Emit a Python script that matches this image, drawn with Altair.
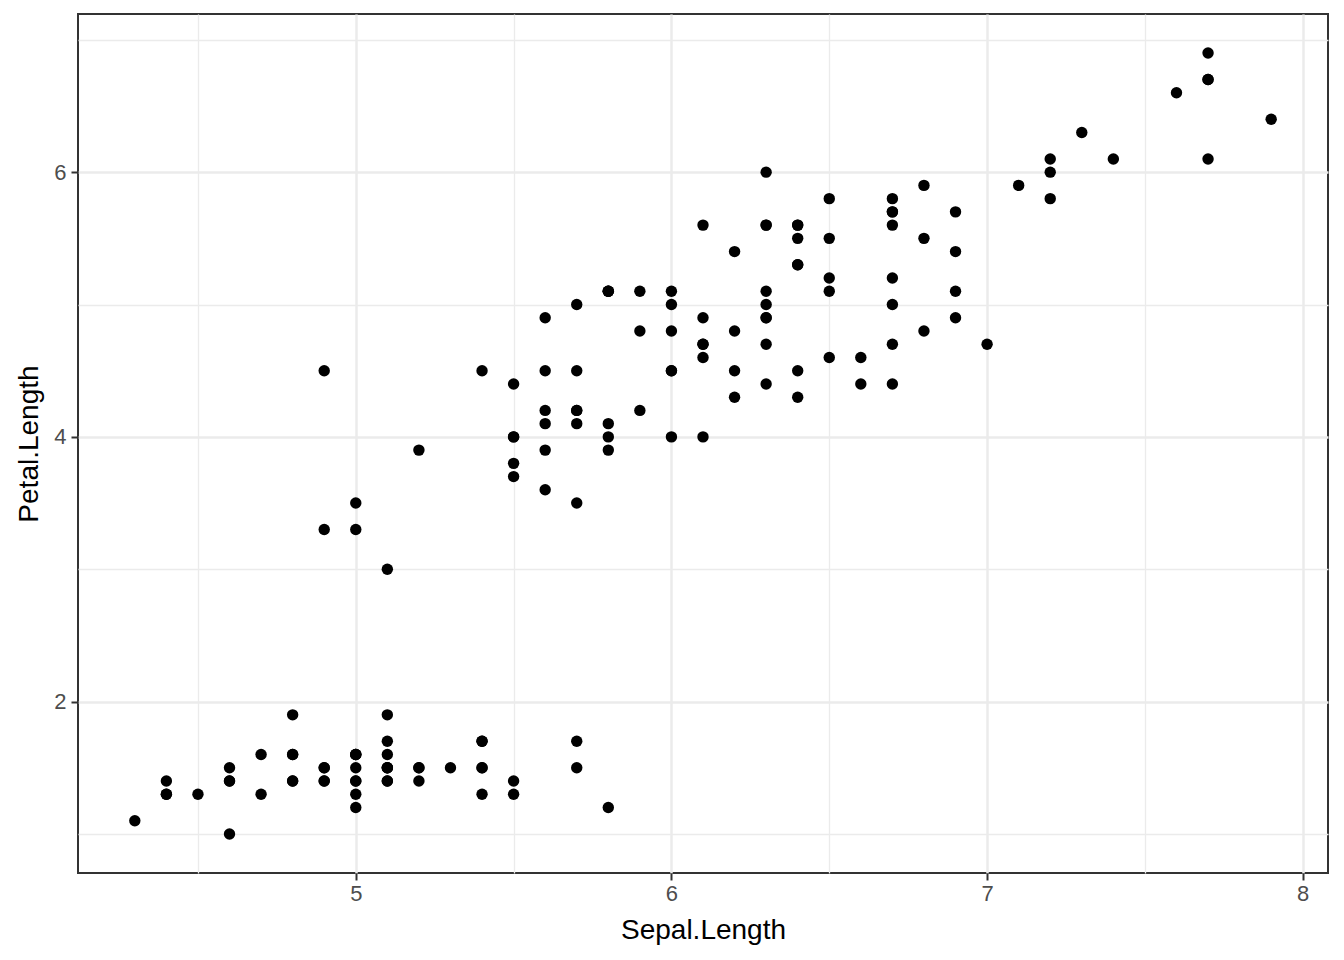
import altair as alt
import pandas as pd

sepal_length = [
    5.1, 4.9, 4.7, 4.6, 5.0, 5.4, 4.6, 5.0, 4.4, 4.9, 5.4, 4.8, 4.8, 4.3, 5.8, 5.7, 5.4, 5.1, 5.7, 5.1,
    5.4, 5.1, 4.6, 5.1, 4.8, 5.0, 5.0, 5.2, 5.2, 4.7, 4.8, 5.4, 5.2, 5.5, 4.9, 5.0, 5.5, 4.9, 4.4, 5.1,
    5.0, 4.5, 4.4, 5.0, 5.1, 4.8, 5.1, 4.6, 5.3, 5.0,
    7.0, 6.4, 6.9, 5.5, 6.5, 5.7, 6.3, 4.9, 6.6, 5.2, 5.0, 5.9, 6.0, 6.1, 5.6, 6.7, 5.6, 5.8, 6.2, 5.6,
    5.9, 6.1, 6.3, 6.1, 6.4, 6.6, 6.8, 6.7, 6.0, 5.7, 5.5, 5.5, 5.8, 6.0, 5.4, 6.0, 6.7, 6.3, 5.6, 5.5,
    5.5, 6.1, 5.8, 5.0, 5.6, 5.7, 5.7, 6.2, 5.1, 5.7,
    6.3, 5.8, 7.1, 6.3, 6.5, 7.6, 4.9, 7.3, 6.7, 7.2, 6.5, 6.4, 6.8, 5.7, 5.8, 6.4, 6.5, 7.7, 7.7, 6.0,
    6.9, 5.6, 7.7, 6.3, 6.7, 7.2, 6.2, 6.1, 6.4, 7.2, 7.4, 7.9, 6.4, 6.3, 6.1, 7.7, 6.3, 6.4, 6.0, 6.9,
    6.7, 6.9, 5.8, 6.8, 6.7, 6.7, 6.3, 6.5, 6.2, 5.9,
]
petal_length = [
    1.4, 1.4, 1.3, 1.5, 1.4, 1.7, 1.4, 1.5, 1.4, 1.5, 1.5, 1.6, 1.4, 1.1, 1.2, 1.5, 1.3, 1.4, 1.7, 1.5,
    1.7, 1.5, 1.0, 1.7, 1.9, 1.6, 1.6, 1.5, 1.4, 1.6, 1.6, 1.5, 1.5, 1.4, 1.5, 1.2, 1.3, 1.4, 1.3, 1.5,
    1.3, 1.3, 1.3, 1.6, 1.9, 1.4, 1.6, 1.4, 1.5, 1.4,
    4.7, 4.5, 4.9, 4.0, 4.6, 4.5, 4.7, 3.3, 4.6, 3.9, 3.5, 4.2, 4.0, 4.7, 3.6, 4.4, 4.5, 4.1, 4.5, 3.9,
    4.8, 4.0, 4.9, 4.7, 4.3, 4.4, 4.8, 5.0, 4.5, 3.5, 3.8, 3.7, 3.9, 5.1, 4.5, 4.5, 4.7, 4.4, 4.1, 4.0,
    4.4, 4.6, 4.0, 3.3, 4.2, 4.2, 4.2, 4.3, 3.0, 4.1,
    6.0, 5.1, 5.9, 5.6, 5.8, 6.6, 4.5, 6.3, 5.8, 6.1, 5.1, 5.3, 5.5, 5.0, 5.1, 5.3, 5.5, 6.7, 6.9, 5.0,
    5.7, 4.9, 6.7, 4.9, 5.7, 6.0, 4.8, 4.9, 5.6, 5.8, 6.1, 6.4, 5.6, 5.1, 5.6, 6.1, 5.6, 5.5, 4.8, 5.4,
    5.6, 5.1, 5.1, 5.9, 5.7, 5.2, 5.0, 5.2, 5.4, 5.1,
]

x_grid_values = [4.5, 5, 5.5, 6, 6.5, 7, 7.5, 8]
y_grid_values = [1, 2, 3, 4, 5, 6, 7]

df = pd.DataFrame({"sepal": sepal_length, "petal": petal_length})

FONT = "Liberation Sans"
GRID = "#EBEBEB"
DARK = "#333333"

def axis_cfg(values, major_test, **kw):
    return alt.Axis(
        values=values,
        grid=True,
        gridColor=GRID,
        gridWidth={"condition": {"test": major_test, "value": 2.5}, "value": 1.3},
        domain=False,
        ticks=True,
        tickColor=DARK,
        tickSize=7,
        tickWidth=2,
        tickOpacity={"condition": {"test": major_test, "value": 1}, "value": 0},
        labelExpr=f"({major_test}) ? format(datum.value, 'd') : ''",
        labelFont=FONT,
        labelFontSize=22,
        labelColor="#4D4D4D",
        titleFont=FONT,
        titleFontSize=28,
        titleFontWeight="normal",
        titleColor="black",
        **kw,
    )

chart = (
    alt.Chart(df)
    .mark_circle(color="black", opacity=1, size=130)
    .encode(
        x=alt.X(
            "sepal:Q",
            scale=alt.Scale(domain=[4.12, 8.08], nice=False, zero=False),
            axis=axis_cfg(
                x_grid_values,
                "datum.value % 1 === 0",
                labelPadding=3,
                titleY=65,
                titleBaseline="alphabetic",
            ),
            title="Sepal.Length",
        ),
        y=alt.Y(
            "petal:Q",
            scale=alt.Scale(domain=[0.705, 7.195], nice=False, zero=False),
            axis=axis_cfg(
                y_grid_values,
                "datum.value % 2 === 0",
                labelPadding=5,
                titleX=-41,
                titleBaseline="alphabetic",
            ),
            title="Petal.Length",
        ),
    )
    .properties(
        width=1250,
        height=859,
        autosize=alt.AutoSizeParams(type="none"),
        padding={"left": 70, "top": 6, "right": 2, "bottom": 78},
        background="white",
    )
    .configure_view(stroke=DARK, strokeWidth=2)
)

chart.save("out.html", embed_options={"renderer": "svg", "actions": False})
